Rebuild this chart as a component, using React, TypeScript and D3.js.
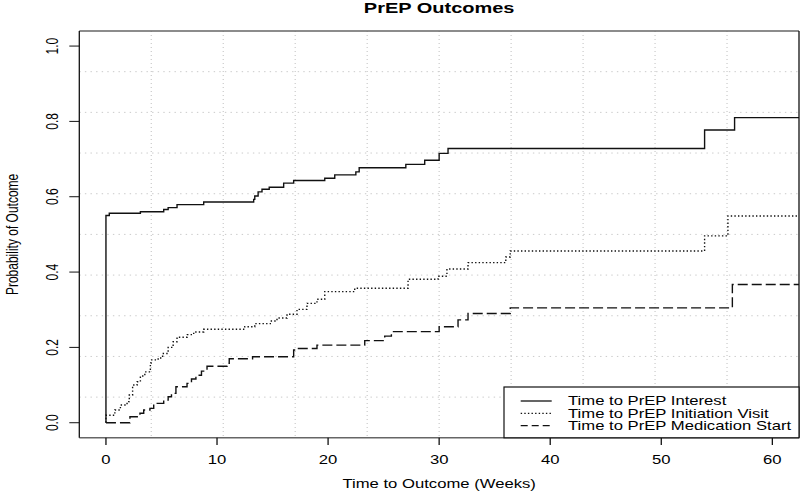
import React from "react";
import * as d3 from "d3";

const W = 800;
const H = 492;
const SX = 1.389; // horizontal stretch of the original picture

const title = "PrEP Outcomes";
const xLabel = "Time to Outcome (Weeks)";
const yLabel = "Probability of Outcome";
const xTicks = [0, 10, 20, 30, 40, 50, 60];
const yTicks = [0, 0.2, 0.4, 0.6, 0.8, 1.0];
const legendLabels = [
  "Time to PrEP Interest",
  "Time to PrEP Initiation Visit",
  "Time to PrEP Medication Start",
];

const interestT = [0, 0, 0.3, 3.1, 5.2, 5.6, 6.4, 8.8, 13.3, 13.4, 13.7, 14.05, 14.7, 16.0, 16.9, 19.7, 20.6, 22.5, 22.8, 27.0, 28.7, 30.0, 30.8, 53.9, 56.6, 63];
const interestP = [0, 0.55, 0.556, 0.56, 0.566, 0.571, 0.579, 0.586, 0.593, 0.602, 0.613, 0.62, 0.625, 0.636, 0.643, 0.649, 0.658, 0.666, 0.677, 0.686, 0.697, 0.715, 0.728, 0.777, 0.81, 0.81];

const visitT = [0, 0, 0.8, 1.3, 1.9, 2.1, 2.4, 2.8, 3.1, 3.5, 4.0, 4.05, 4.7, 5.1, 5.6, 6.05, 6.4, 7.3, 7.9, 8.8, 12.5, 13.4, 14.8, 15.4, 16.3, 17.2, 18.1, 19.0, 19.7, 22.4, 27.2, 29.9, 30.7, 32.6, 36.0, 36.4, 53.9, 56.0, 63];
const visitP = [0, 0.02, 0.034, 0.047, 0.056, 0.0735, 0.1, 0.109, 0.124, 0.135, 0.158, 0.167, 0.172, 0.184, 0.2, 0.215, 0.227, 0.234, 0.241, 0.248, 0.255, 0.263, 0.27, 0.278, 0.288, 0.301, 0.317, 0.328, 0.348, 0.357, 0.381, 0.389, 0.408, 0.425, 0.44, 0.456, 0.496, 0.549, 0.549];

const medT = [0, 2.16, 3.06, 3.4, 3.96, 4.3, 5.2, 5.6, 5.9, 6.3, 7.3, 7.7, 8.1, 8.6, 9.1, 10.9, 11.1, 13.2, 16.9, 17.1, 19.0, 23.3, 25.1, 25.7, 30.0, 31.7, 32.6, 36.4, 56.4, 63];
const medP = [0, 0.016, 0.025, 0.034, 0.038, 0.0515, 0.06, 0.069, 0.078, 0.0956, 0.1046, 0.116, 0.126, 0.137, 0.15, 0.158, 0.17, 0.175, 0.193, 0.197, 0.206, 0.218, 0.23, 0.242, 0.255, 0.273, 0.29, 0.305, 0.367, 0.367];

const series = [
  { t: interestT, p: interestP, dash: "none", legendDash: "none" },
  { t: visitT, p: visitP, dash: "1.4 2.2", legendDash: "1.4 2.2" },
  { t: medT, p: medP, dash: "10 4", legendDash: "7 4" },
];

const FONT = "'Liberation Sans', Arial, Helvetica, sans-serif";

export default function App() {
  const left = 79.3, right = 799, top = 31, bottom = 437.8;
  const x = d3.scaleLinear().domain([-2.4, 62.4]).range([left, right]);
  const y = d3.scaleLinear().domain([-0.04, 1.04]).range([bottom, top]);

  const gridX = d3.range(1, 10).map((k) => left + ((right - left) * k) / 10);
  const gridY = d3.range(1, 10).map((k) => top + ((bottom - top) * k) / 10);

  const line = d3
    .line<[number, number]>()
    .x((d) => x(d[0]))
    .y((d) => y(d[1]))
    .curve(d3.curveStepAfter);

  const hText = (tx: number, ty: number, s: string, opts: any = {}) => (
    <text
      key={s + tx + ty}
      transform={`translate(${tx},${ty}) scale(${SX},1)`}
      textAnchor={opts.anchor || "middle"}
      fontSize={opts.size || 12}
      fontWeight={opts.weight || "normal"}
      fontFamily={FONT}
      fill="#000"
    >
      {s}
    </text>
  );

  const vText = (tx: number, ty: number, s: string) => (
    <text
      key={s + tx + ty}
      transform={`translate(${tx},${ty}) scale(${SX},1) rotate(-90)`}
      textAnchor="middle"
      fontSize={12}
      fontFamily={FONT}
      fill="#000"
    >
      {s}
    </text>
  );

  const legL = 504, legT = 387;
  const rowY = [401, 413.3, 425.7];

  return (
    <svg
      width={W}
      height={H}
      style={{ position: "absolute", left: 0, top: 0, background: "#fff" }}
    >
      <defs>
        <clipPath id="plotClip">
          <rect x={left} y={top} width={right - left} height={bottom - top} />
        </clipPath>
      </defs>
      <rect x={0} y={0} width={W} height={H} fill="#fff" />
      {/* grid */}
      {gridX.map((gx) => (
        <line key={"gx" + gx} x1={gx} x2={gx} y1={top} y2={bottom} stroke="#cacaca" strokeWidth={1.2} strokeDasharray="1 3" />
      ))}
      {gridY.map((gy) => (
        <line key={"gy" + gy} x1={left} x2={right} y1={gy} y2={gy} stroke="#cacaca" strokeWidth={1} strokeDasharray="1.4 4.2" />
      ))}
      {/* curves */}
      <g clipPath="url(#plotClip)">
        {series.map((s, i) => (
          <path
            key={"s" + i}
            d={line(s.t.map((t, j) => [t, s.p[j]] as [number, number])) || ""}
            fill="none"
            stroke="#111"
            strokeWidth={1.4}
            strokeDasharray={s.dash}
          />
        ))}
      </g>
      {/* box */}
      <line x1={left} x2={right} y1={top} y2={top} stroke="#666" strokeWidth={1.6} />
      <line x1={left} x2={right} y1={bottom} y2={bottom} stroke="#666" strokeWidth={1.6} />
      <line x1={left} x2={left} y1={top} y2={bottom} stroke="#111" strokeWidth={1.3} />
      <line x1={right} x2={right} y1={top} y2={bottom} stroke="#111" strokeWidth={1.3} />
      {/* x axis */}
      {xTicks.map((t) => (
        <line key={"xt" + t} x1={x(t)} x2={x(t)} y1={bottom} y2={bottom + 7.2} stroke="#111" strokeWidth={1.3} />
      ))}
      {xTicks.map((t) => hText(x(t), 464, String(t)))}
      {/* y axis */}
      {yTicks.map((t) => (
        <line key={"yt" + t} x1={left} x2={left - 10} y1={y(t)} y2={y(t)} stroke="#111" strokeWidth={1} />
      ))}
      {yTicks.map((t) => vText(58, y(t), t.toFixed(1)))}
      {/* labels */}
      {hText((left + right) / 2, 488, xLabel)}
      {vText(17.5, (top + bottom) / 2, yLabel)}
      {hText((left + right) / 2, 13, title, { size: 14.4, weight: "bold" })}
      {/* legend */}
      <rect x={legL} y={legT} width={right - legL} height={bottom - legT} fill="#fff" stroke="#111" strokeWidth={1.2} />
      {series.map((s, i) => (
        <line key={"ll" + i} x1={520.7} x2={551.7} y1={rowY[i]} y2={rowY[i]} stroke="#111" strokeWidth={1.3} strokeDasharray={s.legendDash} />
      ))}
      {legendLabels.map((l, i) => hText(568, rowY[i] + 4.3, l, { anchor: "start" }))}
    </svg>
  );
}
